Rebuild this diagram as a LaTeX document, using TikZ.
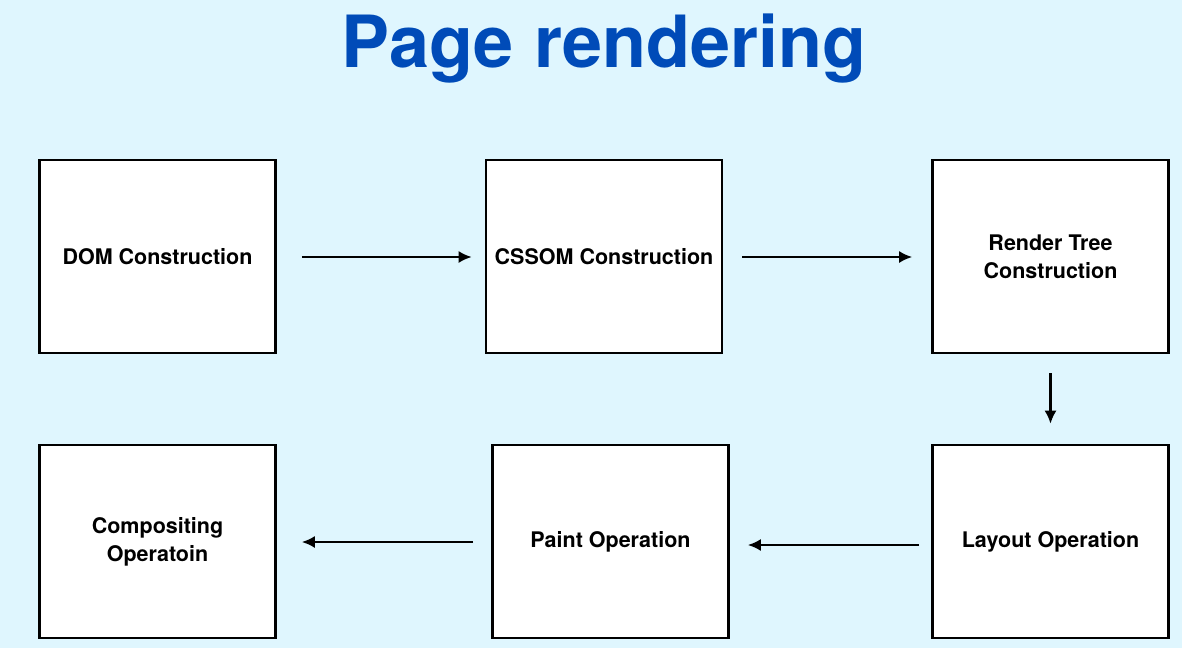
\documentclass[tikz,border=0pt]{standalone}
\usepackage{fontspec}
\setmainfont{TeX Gyre Heros}
\usetikzlibrary{arrows.meta}
\definecolor{bg}{HTML}{DFF6FE}
\definecolor{titleblue}{HTML}{004BB8}
\tikzset{
  stagebox/.style={draw=black, fill=white, line width=2.6pt, minimum width=236pt, minimum height=193pt, align=center, font=\fontsize{21.5}{28}\selectfont\bfseries, inner sep=0pt},
  flow/.style={line width=2.2pt, -{Latex[length=13pt,width=12pt]}}
}
\begin{document}
\begin{tikzpicture}[x=1pt,y=-1pt]
\fill[bg] (0,0) rectangle (1182,648);
\useasboundingbox (0,0) rectangle (1182,648);
\node[font=\fontsize{72}{80}\selectfont\bfseries, text=titleblue, anchor=base] (title) at (604,67) {Page rendering};
\node[stagebox] (dom) at (157.5,256.5) {DOM Construction};
\node[stagebox] (cssom) at (604,256.5) {CSSOM Construction};
\node[stagebox] (render) at (1050.5,256.5) {Render Tree\\Construction};
\node[stagebox] (layout) at (1050.5,541.5) {Layout Operation};
\node[stagebox] (paint) at (610.5,541.5) {Paint Operation};
\node[stagebox] (comp) at (157.5,541.5) {Compositing\\Operatoin};
\draw[flow] ([xshift=25pt]dom.east |- 0,257) -- ([xshift=-13pt]cssom.west |- 0,257);
\draw[flow] ([xshift=19pt]cssom.east |- 0,257) -- ([xshift=-19pt]render.west |- 0,257);
\draw[flow] ([yshift=-19pt]render.south) -- ([yshift=20pt]layout.north);
\draw[flow] ([xshift=-12pt]layout.west |- 0,545) -- ([xshift=18pt]paint.east |- 0,545);
\draw[flow] ([xshift=-18pt]paint.west |- 0,542) -- ([xshift=25pt]comp.east |- 0,542);
\end{tikzpicture}
\end{document}
